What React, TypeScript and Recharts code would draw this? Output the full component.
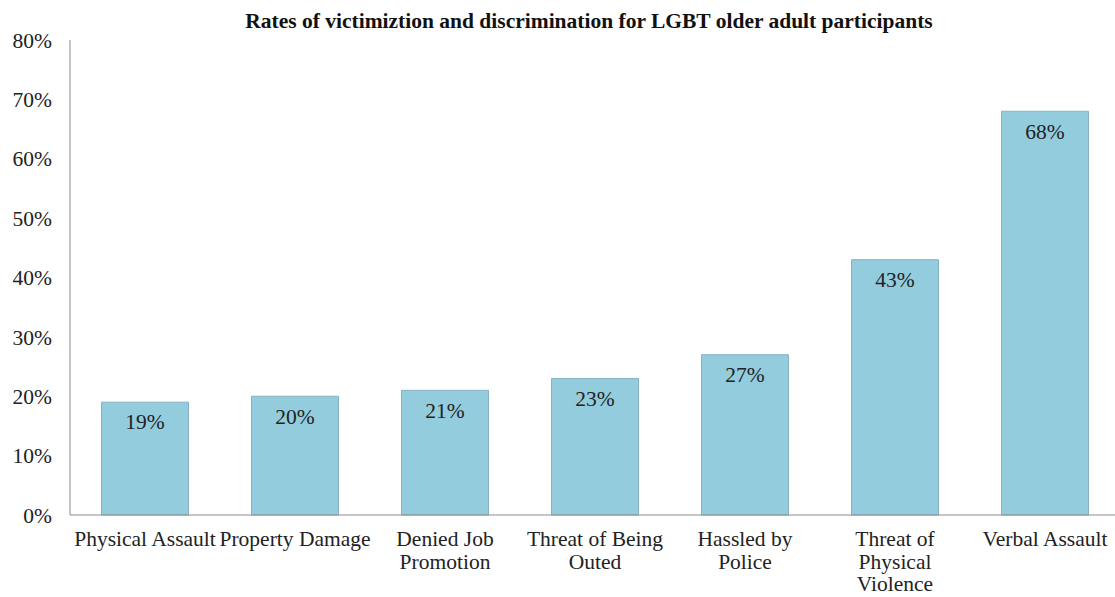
import { BarChart, Bar, XAxis, YAxis, LabelList } from 'recharts';

const categories = [
  'Physical Assault',
  'Property Damage',
  'Denied Job Promotion',
  'Threat of Being Outed',
  'Hassled by Police',
  'Threat of Physical Violence',
  'Verbal Assault',
];

// how Excel wrapped each label
const tickLines: string[][] = [
  ['Physical Assault'],
  ['Property Damage'],
  ['Denied Job', 'Promotion'],
  ['Threat of Being', 'Outed'],
  ['Hassled by', 'Police'],
  ['Threat of', 'Physical', 'Violence'],
  ['Verbal Assault'],
];

const rates = [19, 20, 21, 23, 27, 43, 68];

const yTicks = [0, 10, 20, 30, 40, 50, 60, 70, 80];

const title = 'Rates of victimiztion and discrimination for LGBT older adult participants';

const font = '"Liberation Serif", "Times New Roman", serif';

const data = categories.map((name, i) => ({ name, value: rates[i] }));

function CategoryTick(props: any) {
  const { x, y, index } = props;
  const lines = tickLines[index] || [];
  return (
    <g>
      {lines.map((l, i) => (
        <text
          key={i}
          x={x}
          y={y + 23 + i * 22.5}
          textAnchor="middle"
          fontFamily={font}
          fontSize={21.5}
          fill="#222"
        >
          {l}
        </text>
      ))}
    </g>
  );
}

export default function App() {
  return (
    <div style={{ position: 'absolute', left: 0, top: 0, width: 1115, height: 597, background: '#fff', overflow: 'hidden' }}>
      <div
        style={{
          position: 'absolute',
          left: 0,
          top: 9,
          width: 1178,
          textAlign: 'center',
          fontFamily: font,
          fontWeight: 'bold',
          fontSize: 21.5,
          color: '#111',
        }}
      >
        {title}
      </div>
      <BarChart
        width={1120}
        height={597}
        data={data}
        margin={{ top: 40, right: 0, left: 0, bottom: 0 }}
        barCategoryGap="21%"
      >
        <XAxis
          dataKey="name"
          height={82}
          tickLine={false}
          stroke="#8c8c8c"
          interval={0}
          tick={<CategoryTick />}
        />
        <YAxis
          width={70}
          domain={[0, 80]}
          ticks={yTicks}
          tickLine={false}
          tickMargin={12}
          stroke="#8c8c8c"
          tickFormatter={(v) => `${v}%`}
          tick={{ fill: '#222', fontFamily: font, fontSize: 21.5 }}
        />
        <Bar dataKey="value" fill="#93CCDD" stroke="#86b3c2" strokeWidth={1} isAnimationActive={false}>
          <LabelList
            dataKey="value"
            position="insideTop"
            offset={12}
            formatter={(v: any) => `${v}%`}
            style={{ fill: '#222', fontFamily: font, fontSize: 21.5 }}
          />
        </Bar>
      </BarChart>
    </div>
  );
}
